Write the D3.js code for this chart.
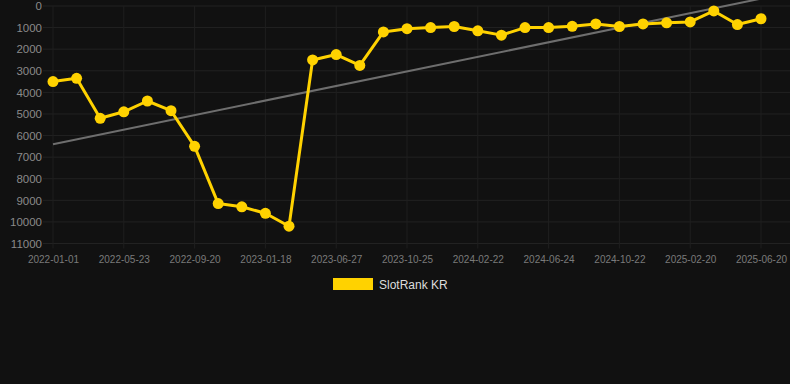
<!DOCTYPE html>
<html>
<head>
<meta charset="utf-8">
<script src="https://cdn.jsdelivr.net/npm/d3@7"></script>
<style>
html,body{margin:0;padding:0;background:#111111;}
svg{display:block;}
</style>
</head>
<body>
<svg id="chart" width="790" height="384"></svg>
<script>
const dates = [
  "2022-01-01","2022-02-17","2022-04-05","2022-05-23","2022-07-02","2022-08-11",
  "2022-09-20","2022-10-30","2022-12-09","2023-01-18","2023-03-12","2023-05-04",
  "2023-06-27","2023-08-06","2023-09-15","2023-10-25","2023-12-03","2024-01-13",
  "2024-02-22","2024-04-02","2024-05-14","2024-06-24","2024-08-03","2024-09-12",
  "2024-10-22","2024-12-01","2025-01-10","2025-02-20","2025-04-01","2025-05-11",
  "2025-06-20"
];
const ranks = [
  3500,3350,5200,4900,4400,4850,
  6500,9150,9300,9600,10200,2500,
  2250,2750,1200,1050,1000,950,
  1150,1350,1000,1000,940,830,
  950,830,780,740,230,860,
  590
];
const yTicks = [0,1000,2000,3000,4000,5000,6000,7000,8000,9000,10000,11000];
const seriesName = "SlotRank KR";

(function () {
const svg = d3.select("#chart");
const pl = 53, pr = 761, pt = 6, pb = 243.5;

const x = d3.scalePoint().domain(dates).range([pl, pr]);
const y = d3.scaleLinear().domain([0, 11000]).range([pt, pb]);

const labelDates = dates.filter((d, i) => i % 3 === 0);

// grid
const g = svg.append("g");
g.selectAll("line.h").data(yTicks).join("line")
  .attr("x1", pl - 10).attr("x2", pr + 29)
  .attr("y1", d => y(d)).attr("y2", d => y(d))
  .attr("stroke", "#222222").attr("stroke-width", 1);
g.selectAll("line.v").data(labelDates).join("line")
  .attr("x1", d => x(d)).attr("x2", d => x(d))
  .attr("y1", pt).attr("y2", pb + 5)
  .attr("stroke", "#1f1f1f").attr("stroke-width", 1);

// y axis
const yAxis = d3.axisLeft(y).tickValues(yTicks).tickSize(0).tickPadding(0).tickFormat(d3.format("d"));
const ya = svg.append("g").attr("transform", `translate(${pl - 10},0)`).call(yAxis);
ya.select(".domain").remove();
ya.selectAll("text").attr("fill", "#8a8a8a").attr("font-family", "Liberation Sans, Arial, sans-serif")
  .attr("font-size", "11.5px").attr("dx", "-1");

// x axis
const xAxis = d3.axisBottom(x).tickValues(labelDates).tickSize(0).tickPadding(0);
const xa = svg.append("g").attr("transform", `translate(0,${pb})`).call(xAxis);
xa.select(".domain").remove();
xa.selectAll("text").attr("fill", "#7a7a7a").attr("font-family", "Liberation Sans, Arial, sans-serif")
  .attr("font-size", "10px").attr("dy", "0").attr("y", 19.5);

// trend line (least squares)
const n = ranks.length;
const idx = d3.range(n);
const mx = d3.mean(idx), my = d3.mean(ranks);
const slope = d3.sum(idx, i => (i - mx) * (ranks[i] - my)) / d3.sum(idx, i => (i - mx) * (i - mx));
const icpt = my - slope * mx;
svg.append("line")
  .attr("x1", x(dates[0])).attr("y1", y(icpt))
  .attr("x2", x(dates[n - 1])).attr("y2", y(icpt + slope * (n - 1)))
  .attr("stroke", "#6e6e6e").attr("stroke-width", 2);

// series line
const line = d3.line().x((d, i) => x(dates[i])).y(d => y(d));
svg.append("path").datum(ranks).attr("d", line)
  .attr("fill", "none").attr("stroke", "#FFD200").attr("stroke-width", 3).attr("stroke-linejoin", "round");
svg.selectAll("circle.pt").data(ranks).join("circle")
  .attr("cx", (d, i) => x(dates[i])).attr("cy", d => y(d)).attr("r", 5.5)
  .attr("fill", "#FFD200");

// legend
svg.append("rect").attr("x", 333).attr("y", 278).attr("width", 40).attr("height", 12).attr("fill", "#FFD200");
svg.append("text").attr("x", 379).attr("y", 288.5).text(seriesName)
  .attr("fill", "#dddddd").attr("font-family", "Liberation Sans, Arial, sans-serif").attr("font-size", "12px");
})();
</script>
</body>
</html>
